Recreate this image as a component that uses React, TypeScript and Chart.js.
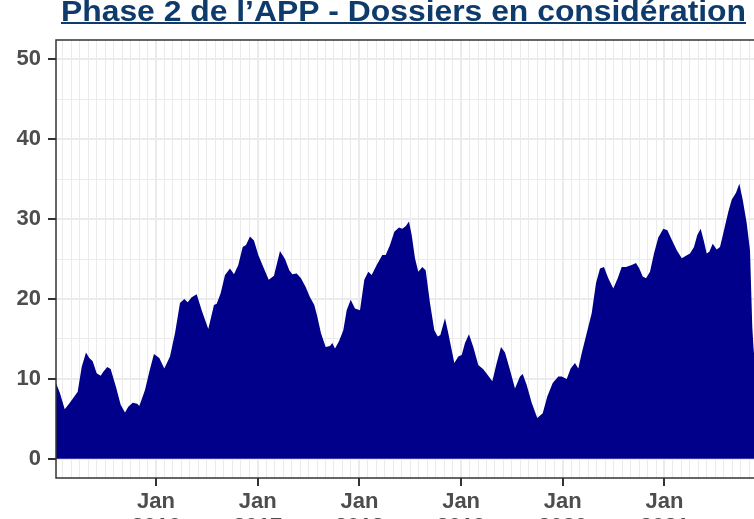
import React, { useEffect, useRef } from "react";
import { Chart, registerables } from "chart.js";

Chart.register(...registerables);

const TITLE = "Phase 2 de l’APP - Dossiers en considération";

// x: months elapsed since 1 January 2015
const months = [
  0.2, 0.67, 1.23, 1.65, 2.24, 2.76, 3.23, 3.74, 4.13, 4.53, 5.0, 5.47, 5.78, 6.25, 6.65,
  7.28, 7.83, 8.34, 8.73, 9.25, 9.79, 10.03, 10.7, 11.21, 11.76, 12.39, 12.98, 13.65, 14.24,
  14.83, 15.34, 15.74, 16.21, 16.8, 17.39, 18.17, 18.84, 19.16, 19.63, 20.14, 20.73, 21.2,
  21.71, 22.23, 22.62, 23.09, 23.56, 24.07, 24.66, 25.3, 25.92, 26.63, 27.22, 27.73, 28.08,
  28.6, 29.11, 29.66, 30.17, 30.68, 31.03, 31.47, 32.02, 32.53, 32.8, 33.12, 33.59, 34.1,
  34.5, 34.97, 35.48, 36.07, 36.58, 37.05, 37.45, 38.04, 38.7, 39.1, 39.61, 40.12, 40.67,
  41.06, 41.46, 41.85, 42.17, 42.56, 42.95, 43.42, 43.82, 44.33, 44.84, 45.24, 45.55, 46.1,
  46.49, 47.2, 47.67, 48.07, 48.46, 48.93, 49.44, 50.03, 50.62, 51.14, 51.68, 52.2, 52.71,
  53.18, 53.77, 54.36, 54.95, 55.27, 55.74, 56.33, 56.99, 57.63, 58.17, 58.81, 59.47, 59.87,
  60.46, 60.93, 61.44, 61.83, 62.23, 62.82, 63.41, 63.92, 64.39, 64.86, 65.37, 65.96, 66.48,
  66.95, 67.46, 68.13, 68.64, 69.03, 69.43, 69.82, 70.29, 70.76, 71.27, 71.86, 72.34, 72.86,
  73.45, 74.04, 74.54, 75.01, 75.48, 75.87, 76.27, 76.66, 76.98, 77.29, 77.69, 78.16, 78.55,
  79.02, 79.53, 79.93, 80.44, 80.83, 81.23, 81.7, 82.09, 82.36, 82.5, 82.8,
];

const dossiers = [
  9.5, 8.2, 6.2, 6.75, 7.6, 8.4, 11.5, 13.3, 12.6, 12.2, 10.7, 10.4, 10.9, 11.5, 11.25,
  9.0, 6.75, 5.8, 6.5, 7.0, 6.9, 6.6, 8.6, 10.9, 13.1, 12.6, 11.3, 12.8, 15.7,
  19.5, 20.0, 19.6, 20.2, 20.6, 18.6, 16.25, 19.25, 19.4, 20.7, 23.0, 23.8, 23.1,
  24.25, 26.5, 26.75, 27.8, 27.3, 25.5, 24.0, 22.4, 22.9, 26.0, 25.0, 23.6, 23.1,
  23.2, 22.6, 21.5, 20.2, 19.25, 17.8, 15.7, 14.0, 14.1, 14.5, 13.8, 14.7, 16.1,
  18.6, 19.9, 18.8, 18.6, 22.4, 23.4, 23.0, 24.25, 25.5, 25.5, 26.75, 28.4, 28.95,
  28.8, 29.1, 29.7, 28.0, 25.1, 23.4, 24.0, 23.6, 19.5, 16.1, 15.3, 15.5, 17.6,
  15.7, 12.0, 12.8, 13.0, 14.5, 15.6, 14.0, 11.75, 11.2, 10.5, 9.7, 12.0, 14.0,
  13.3, 11.1, 8.8, 10.3, 10.6, 9.25, 7.0, 5.1, 5.7, 7.8, 9.5, 10.3, 10.3,
  10.0, 11.3, 12.0, 11.3, 13.2, 15.7, 18.2, 22.0, 23.8, 24.0, 22.6, 21.3, 22.6,
  24.0, 24.0, 24.25, 24.5, 23.8, 22.8, 22.6, 23.4, 25.7, 27.7, 28.8, 28.6, 27.4,
  26.1, 25.1, 25.4, 25.7, 26.5, 28.0, 28.8, 27.2, 25.7, 25.9, 26.9, 26.2, 26.5,
  28.6, 30.9, 32.4, 33.3, 34.4, 32.4, 29.5, 26.1, 16.5, 14.0, 10.0,
];

const yearTicks = [12, 24, 36, 48, 60, 72];
const yearLabels = ["2016", "2017", "2018", "2019", "2020", "2021"];
const yTicks = [0, 10, 20, 30, 40, 50];
const yMinorTicks = [5, 15, 25, 35, 45];

const X_MIN = 0.2;
const X_MAX = 83.27;
const Y_MIN = -2.4;
const Y_MAX = 52.4;

const AXIS_FONT = { family: "'Liberation Sans', Arial, sans-serif", size: 22, weight: "bold" as const };
const AXIS_COLOR = "#4d4d4d";

const titlePlugin = {
  id: "customTitle",
  afterDraw(chart: any) {
    const ctx = chart.ctx;
    ctx.save();
    ctx.font = "bold 29px 'Liberation Sans', Arial, sans-serif";
    ctx.fillStyle = "#0e3b6b";
    ctx.textBaseline = "alphabetic";
    ctx.textAlign = "left";
    const w = ctx.measureText(TITLE).width;
    const target = 685;
    ctx.translate(61, 20.5);
    ctx.scale(target / w, 1);
    ctx.fillText(TITLE, 0, 0);
    ctx.restore();
    ctx.save();
    ctx.fillStyle = "#0e3b6b";
    ctx.fillRect(61, 22, target, 2);
    ctx.restore();
  },
};

const borderPlugin = {
  id: "panelBorder",
  afterDatasetsDraw(chart: any) {
    const { ctx, chartArea } = chart;
    ctx.save();
    ctx.strokeStyle = "#333333";
    ctx.lineWidth = 1.5;
    ctx.strokeRect(chartArea.left, chartArea.top, chartArea.right - chartArea.left, chartArea.bottom - chartArea.top);
    ctx.restore();
  },
};

export default function App() {
  const ref = useRef<HTMLCanvasElement | null>(null);

  useEffect(() => {
    if (!ref.current) return;
    const monthTicks: number[] = [];
    for (let m = 1; m <= 83; m++) monthTicks.push(m);

    const chart = new Chart(ref.current, {
      type: "line",
      data: {
        datasets: [
          {
            data: months.map((m, i) => ({ x: m, y: dossiers[i] })),
            fill: "origin",
            backgroundColor: "#00008a",
            borderColor: "#00008a",
            borderWidth: 0,
            pointRadius: 0,
            tension: 0,
          },
        ],
      },
      options: {
        animation: false,
        responsive: false,
        events: [],
        layout: { padding: { left: 0, right: 0, top: 40, bottom: 0 } },
        plugins: {
          legend: { display: false },
          tooltip: { enabled: false },
          title: { display: false },
        },
        scales: {
          xMinor: {
            type: "linear",
            position: "bottom",
            min: X_MIN,
            max: X_MAX,
            afterBuildTicks: (s: any) => {
              s.ticks = monthTicks.map((v) => ({ value: v }));
            },
            ticks: { display: false },
            grid: { color: "#ebebeb", lineWidth: 1, drawTicks: false },
            border: { display: false },
            afterFit: (s: any) => {
              s.height = 0;
            },
          },
          yMinor: {
            type: "linear",
            position: "left",
            min: Y_MIN,
            max: Y_MAX,
            afterBuildTicks: (s: any) => {
              s.ticks = yMinorTicks.map((v) => ({ value: v }));
            },
            ticks: { display: false },
            grid: { color: "#ebebeb", lineWidth: 1, drawTicks: false },
            border: { display: false },
            afterFit: (s: any) => {
              s.width = 0;
            },
          },
          x: {
            type: "linear",
            position: "bottom",
            min: X_MIN,
            max: X_MAX,
            afterBuildTicks: (s: any) => {
              s.ticks = yearTicks.map((v) => ({ value: v }));
            },
            ticks: {
              autoSkip: false,
              maxRotation: 0,
              padding: 3,
              color: AXIS_COLOR,
              font: { ...AXIS_FONT, lineHeight: 1.15 },
              callback: (v: any) => {
                const i = yearTicks.indexOf(Number(v));
                return ["Jan", yearLabels[i]];
              },
            },
            grid: {
              color: "#ebebeb",
              lineWidth: 2,
              tickColor: "#333333",
              tickLength: 8,
              tickWidth: 2,
            },
            border: { display: false },
            afterFit: (s: any) => {
              s.height = 41;
            },
          },
          y: {
            type: "linear",
            position: "left",
            min: Y_MIN,
            max: Y_MAX,
            afterBuildTicks: (s: any) => {
              s.ticks = yTicks.map((v) => ({ value: v }));
            },
            ticks: {
              padding: 7,
              color: AXIS_COLOR,
              font: AXIS_FONT,
              callback: (v: any) => String(v),
            },
            grid: {
              color: "#ebebeb",
              lineWidth: 2,
              tickColor: "#333333",
              tickLength: 8,
              tickWidth: 2,
            },
            border: { display: false },
            afterFit: (s: any) => {
              s.width = 56;
            },
          },
        },
      } as any,
      plugins: [titlePlugin, borderPlugin],
    });
    return () => chart.destroy();
  }, []);

  return (
    <div
      style={{
        position: "fixed",
        top: 0,
        left: 0,
        width: 754,
        height: 519,
        overflow: "hidden",
        background: "#ffffff",
      }}
    >
      <canvas ref={ref} width={760} height={519} style={{ display: "block", width: 760, height: 519 }} />
    </div>
  );
}
